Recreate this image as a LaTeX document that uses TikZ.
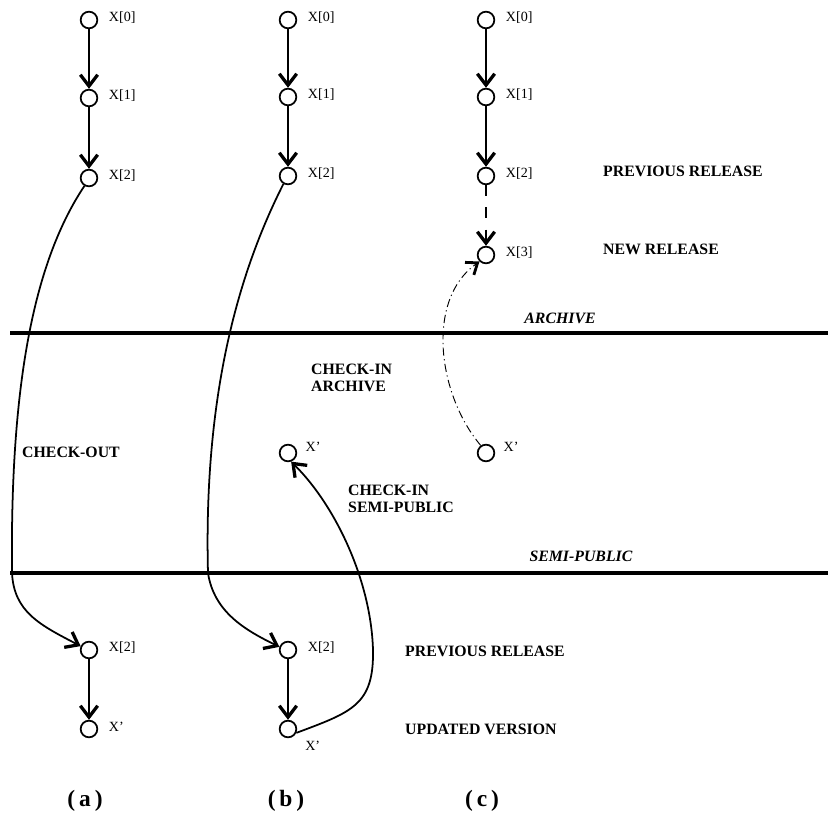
\documentclass[tikz,border=0pt]{standalone}
\usepackage{fontspec}
\setmainfont{Liberation Serif}
\usetikzlibrary{arrows.meta,positioning}
\tikzset{
  versnode/.style={draw,circle,line width=1.5pt,minimum size=5mm,inner sep=0pt},
  verslabel/.style={font=\fontsize{12}{14}\selectfont,inner sep=1pt,yshift=2pt},
  notetext/.style={font=\fontsize{13.5}{15}\selectfont\bfseries,align=left,inner sep=0pt},
  zonetext/.style={font=\fontsize{13.5}{15}\selectfont\bfseries\itshape,inner sep=0pt},
  captiontext/.style={font=\fontsize{20}{22}\selectfont\bfseries},
  zoneline/.style={line width=3pt},
  derivarrow/.style={line width=1.5pt,-{Straight Barb[length=3.4mm,width=5.2mm,line width=2.8pt]}},
  dasharrow/.style={line width=0.8pt,dash pattern=on 7pt off 3pt on 1pt off 3pt,
    -{Straight Barb[length=3mm,width=4.6mm,line width=2.4pt]}},
}
\begin{document}
\begin{tikzpicture}[x=0.03cm,y=-0.03cm]
  \useasboundingbox (0,0) rectangle (828,817);
  % storage zones
  \coordinate (archl) at (10,333);
  \coordinate (archr) at (828,333);
  \coordinate (semil) at (10,573);
  \coordinate (semir) at (828,573);
  \draw[zoneline] (archl) -- (archr);
  \draw[zoneline] (semil) -- (semir);
  \node[zonetext] (archname) at (560,318) {ARCHIVE};
  \node[zonetext] (seminame) at (581,556) {SEMI-PUBLIC};

  % (a) check-out
  \node[versnode] (a0) at (89,20) {};
  \node[versnode] (a1) at (89,98) {};
  \node[versnode] (a2) at (89,178) {};
  \node[versnode] (a2w) at (89,650) {};
  \node[versnode] (a3w) at (89,729) {};
  \node[verslabel,right=8pt of a0] (a0t) {X[0]};
  \node[verslabel,right=8pt of a1] (a1t) {X[1]};
  \node[verslabel,right=8pt of a2] (a2t) {X[2]};
  \node[verslabel,right=8pt of a2w] (a2wt) {X[2]};
  \node[verslabel,right=8pt of a3w] (a3wt) {X'};
  \draw[derivarrow] (a0) -- (a1);
  \draw[derivarrow] (a1) -- (a2);
  \draw[derivarrow] (a2w) -- (a3w);
  \draw[derivarrow] (a2.240) .. controls (35,260) and (10,380) .. (12,573)
    .. controls (14,612) and (40,625) .. (a2w.155);

  % (b) check-in semi-public
  \node[versnode] (b0) at (288,20) {};
  \node[versnode] (b1) at (288,97) {};
  \node[versnode] (b2) at (288,176) {};
  \node[versnode] (b3m) at (288,453) {};
  \node[versnode] (b2w) at (288,650) {};
  \node[versnode] (b3w) at (288,729) {};
  \node[verslabel,right=8pt of b0] (b0t) {X[0]};
  \node[verslabel,right=8pt of b1] (b1t) {X[1]};
  \node[verslabel,right=8pt of b2] (b2t) {X[2]};
  \node[verslabel,right=6pt of b3m,yshift=3pt] (b3mt) {X'};
  \node[verslabel,right=8pt of b2w] (b2wt) {X[2]};
  \node[verslabel,below right=6pt and 8pt of b3w] (b3wt) {X'};
  \draw[derivarrow] (b0) -- (b1);
  \draw[derivarrow] (b1) -- (b2);
  \draw[derivarrow] (b2w) -- (b3w);
  \draw[derivarrow] (b2.240) .. controls (245,260) and (203,380) .. (208,573)
    .. controls (214,612) and (245,630) .. (b2w.160);
  \draw[derivarrow] (b3w.-25) .. controls (352,712) and (374,705) .. (373,650)
    .. controls (371,580) and (335,505) .. (b3m.-70);

  % (c) check-in archive
  \node[versnode] (c0) at (486,20) {};
  \node[versnode] (c1) at (486,97) {};
  \node[versnode] (c2) at (486,176) {};
  \node[versnode] (c3) at (486,255) {};
  \node[versnode] (c3m) at (486,453) {};
  \node[verslabel,right=8pt of c0] (c0t) {X[0]};
  \node[verslabel,right=8pt of c1] (c1t) {X[1]};
  \node[verslabel,right=8pt of c2] (c2t) {X[2]};
  \node[verslabel,right=8pt of c3] (c3t) {X[3]};
  \node[verslabel,right=6pt of c3m,yshift=3pt] (c3mt) {X'};
  \draw[derivarrow] (c0) -- (c1);
  \draw[derivarrow] (c1) -- (c2);
  \draw[derivarrow,line width=0.9pt,dash pattern=on 9pt off 10pt] (c2) -- (c3);
  \draw[dasharrow] (c3m.125) .. controls (438,395) and (425,300) .. (c3.225);

  % notes
  \node[notetext,anchor=west] (prevtop) at (603,171) {PREVIOUS RELEASE};
  \node[notetext,anchor=west] (newrel) at (603,249) {NEW RELEASE};
  \node[notetext,anchor=west] (ciarch) at (311,378) {CHECK-IN\\ARCHIVE};
  \node[notetext,anchor=west] (coname) at (22,452) {CHECK-OUT};
  \node[notetext,anchor=west] (cisemi) at (348,499) {CHECK-IN\\SEMI-PUBLIC};
  \node[notetext,anchor=west] (prevbot) at (405,651) {PREVIOUS RELEASE};
  \node[notetext,anchor=west] (updver) at (405,729) {UPDATED VERSION};

  % captions
  \node[captiontext] (capa) at (85,801) {(\,a\,)};
  \node[captiontext] (capb) at (286,801) {(\,b\,)};
  \node[captiontext] (capc) at (482,801) {(\,c\,)};
\end{tikzpicture}
\end{document}
